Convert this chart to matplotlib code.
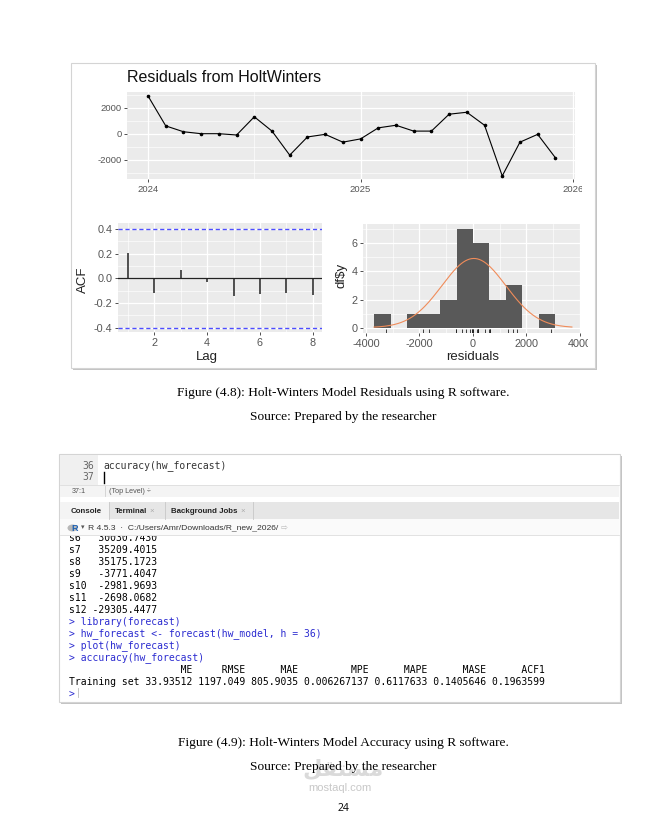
import numpy as np
import matplotlib.pyplot as plt
from matplotlib.patches import Rectangle, Ellipse
from matplotlib.transforms import Bbox

W, H = 668, 813

# residuals from the Holt-Winters fit, monthly Jan 2024 - Dec 2025
resid = [2900, 600, 150, 0, 0, -100, 1300, 200, -1650, -250, -50, -650,
         -400, 450, 650, 200, 200, 1500, 1650, 650, -3250, -650, -50, -1850]
t = 2024 + np.arange(len(resid)) / 12

# ACF of residuals
acf_lags = [1, 2, 3, 4, 5, 6, 7, 8]
acf_vals = [0.203, -0.12, 0.068, -0.032, -0.14, -0.127, -0.116, -0.135]
acf_ci = 0.4

# histogram of residuals
hist_edges = [-3690, -3075, -2460, -1845, -1230, -615, 0, 615, 1230, 1845, 2460, 3075]
hist_counts = [1, 0, 1, 1, 2, 7, 6, 2, 3, 0, 1]
norm_mean, norm_sd = 34, 1197

# console text
seasonal = [("s6", "30030.7430"), ("s7", "35209.4015"), ("s8", "35175.1723"),
            ("s9", "-3771.4047"), ("s10", "-2981.9693"), ("s11", "-2698.0682"),
            ("s12", "-29305.4477")]
commands = ["library(forecast)", "hw_forecast <- forecast(hw_model, h = 36)",
            "plot(hw_forecast)", "accuracy(hw_forecast)"]
acc_names = ["ME", "RMSE", "MAE", "MPE", "MAPE", "MASE", "ACF1"]
acc_vals = ["33.93512", "1197.049", "805.9035", "0.006267137", "0.6117633",
            "0.1405646", "0.1963599"]

plt.rcParams['font.family'] = ['Liberation Sans', 'DejaVu Sans']
plt.rcParams['axes.unicode_minus'] = False

fig = plt.figure(figsize=(W / 100, H / 100), dpi=100)
fig.patch.set_facecolor('white')

bg = fig.add_axes([0, 0, 1, 1])
bg.set_xlim(0, W)
bg.set_ylim(H, 0)
bg.axis('off')


def px_axes(x0, y0, x1, y1):
    return fig.add_axes([x0 / W, 1 - y1 / H, (x1 - x0) / W, (y1 - y0) / H])


def gg(ax, size):
    ax.set_facecolor('#ebebeb')
    for s in ax.spines.values():
        s.set_visible(False)
    ax.grid(which='major', color='white', lw=0.9)
    ax.grid(which='minor', color='white', lw=0.45)
    ax.set_axisbelow(True)
    ax.tick_params(which='major', length=2.5, width=0.6, color='#333333',
                   labelcolor='#555555', labelsize=size, pad=1.5)
    ax.tick_params(which='minor', length=0)


def clip_xlabels(ax, xmax):
    for lbl in ax.get_xticklabels():
        lbl.set_clip_on(True)
        lbl.set_clip_box(Bbox.from_extents(0, 0, xmax, H))


def frame(x0, y0, x1, y1):
    bg.add_patch(Rectangle((x0 + 2, y0 + 2), x1 - x0, y1 - y0, fc='#c4c4c4', ec='none'))
    bg.add_patch(Rectangle((x0, y0), x1 - x0, y1 - y0, fc='white', ec='#d4d4d4', lw=0.8))


# ---------- figure 4.8 ----------
frame(71, 63, 595, 368)
bg.text(127, 78, "Residuals from HoltWinters", fontsize=11.5, va='center', color='#111111')

ax = px_axes(127, 92, 575, 179)
gg(ax, 6.8)
ax.plot(t, resid, color='black', lw=0.8, marker='o', ms=1.6)
ax.set_xlim(2023.901, 2026.009)
ax.set_ylim(-3485, 3208)
ax.set_xticks([2024, 2025, 2026])
ax.set_xticks([2024.5, 2025.5], minor=True)
ax.set_yticks([-2000, 0, 2000])
ax.set_yticks([-3000, -1000, 1000, 3000], minor=True)
clip_xlabels(ax, 582)

ax = px_axes(118, 223, 322, 332)
gg(ax, 7.8)
ax.axhline(0, color='#222222', lw=0.9)
ax.vlines(acf_lags, 0, acf_vals, color='#222222', lw=1.1)
for c in (acf_ci, -acf_ci):
    ax.axhline(c, color='#4d4dff', lw=1, ls=(0, (3, 2)))
ax.set_xlim(0.625, 8.35)
ax.set_ylim(-0.435, 0.449)
ax.set_xticks([2, 4, 6, 8])
ax.set_xticks([1, 3, 5, 7], minor=True)
ax.set_yticks([-0.4, -0.2, 0, 0.2, 0.4])
ax.set_yticklabels(["-0.4", "-0.2", "0.0", "0.2", "0.4"])
ax.set_yticks([-0.3, -0.1, 0.1, 0.3], minor=True)
bg.text(83, 280, "ACF", rotation=90, fontsize=9.5, ha='center', va='center', color='#222222')
bg.text(207, 357, "Lag", fontsize=9.5, ha='center', va='center', color='#222222')

ax = px_axes(363, 224, 581, 333)
gg(ax, 7.8)
ax.bar(hist_edges[:-1], hist_counts, width=np.diff(hist_edges), align='edge', color='#595959')
ax.vlines(resid, 0, 0.035, transform=ax.get_xaxis_transform(), color='#222222', lw=0.6)
xs = np.linspace(-3700, 3700, 200)
binw = hist_edges[1] - hist_edges[0]
ys = len(resid) * binw * np.exp(-0.5 * ((xs - norm_mean) / norm_sd) ** 2) / (norm_sd * np.sqrt(2 * np.pi))
ax.plot(xs, ys, color='#f08c5a', lw=0.8)
ax.set_xlim(-4112, 4040)
ax.set_ylim(-0.38, 7.37)
ax.set_xticks([-4000, -2000, 0, 2000, 4000])
ax.set_xticks([-3000, -1000, 1000, 3000], minor=True)
ax.set_yticks([0, 2, 4, 6])
ax.set_yticks([1, 3, 5, 7], minor=True)
clip_xlabels(ax, 588)
bg.text(342, 275, r"df\$y", rotation=90, fontsize=9.5, ha='center', va='center', color='#222222')
bg.text(473, 357, "residuals", fontsize=9.5, ha='center', va='center', color='#222222')

serif = 'Liberation Serif'
cap = 9.65
bg.text(343, 393, "Figure (4.8): Holt-Winters Model Residuals using R software.",
        family=serif, fontsize=cap, ha='center', va='center')
bg.text(343, 417, "Source: Prepared by the researcher",
        family=serif, fontsize=cap, ha='center', va='center')

# ---------- figure 4.9 (RStudio console) ----------
frame(59, 454, 620, 702)
mono = 'DejaVu Sans Mono'
ms = 7.05

# editor strip
bg.add_patch(Rectangle((60, 455), 38, 30, fc='#f0f0f0', ec='none'))
bg.text(94, 466, "36", family=mono, fontsize=ms, ha='right', va='center', color='#666666')
bg.text(94, 477, "37", family=mono, fontsize=ms, ha='right', va='center', color='#666666')
bg.text(103, 466, "accuracy(hw_forecast)", family=mono, fontsize=ms, va='center', color='#333333')
bg.plot([103.5, 103.5], [472, 483], color='black', lw=1)

# status bar
bg.add_patch(Rectangle((60, 485), 559, 12, fc='#f4f4f4', ec='none'))
bg.plot([60, 619], [485, 485], color='#dddddd', lw=0.6)
bg.plot([105, 105], [486, 496], color='#d0d0d0', lw=0.6)
bg.text(72, 491, "37:1", fontsize=5.2, va='center', color='#555555')
bg.text(109, 491, "(Top Level) \u00f7", fontsize=5.2, va='center', color='#555555')

# tab bar
bg.add_patch(Rectangle((60, 502), 559, 17, fc='#e6e6e6', ec='none'))
bg.add_patch(Rectangle((60, 502), 49, 17, fc='#f4f4f4', ec='none'))
for xs_ in (109, 165, 253):
    bg.plot([xs_, xs_], [502, 519], color='#c8c8c8', lw=0.6)
bg.text(71, 511, "Console", fontsize=5.7, weight='bold', va='center', color='#222222')
bg.text(115, 511, "Terminal", fontsize=5.7, weight='bold', va='center', color='#222222')
bg.text(149, 511, "\u00d7", fontsize=5.7, va='center', color='#aaaaaa')
bg.text(171, 511, "Background Jobs", fontsize=5.7, weight='bold', va='center', color='#222222')
bg.text(240, 511, "\u00d7", fontsize=5.7, va='center', color='#aaaaaa')

# path bar
bg.add_patch(Rectangle((60, 519), 559, 16, fc='#fafafa', ec='none'))
bg.add_patch(Ellipse((72.5, 528), 10, 7, fc='#b8b8b8', ec='none'))
bg.text(74.5, 528.5, "R", fontsize=6.5, weight='bold', ha='center', va='center', color='#1f63b5')
bg.text(81, 528, "\u25be", fontsize=5, va='center', color='#555555')
bg.text(88, 528, "R 4.5.3  \u00b7  C:/Users/Amr/Downloads/R_new_2026/", fontsize=6.1, va='center',
        color='#333333')
bg.text(281, 528, "\u21e8", family=['DejaVu Sans'], fontsize=6, va='center', color='#bbbbbb')
bg.plot([60, 619], [535, 535], color='#dddddd', lw=0.6)

# console output
out = px_axes(60, 535.5, 619, 701)
out.set_xlim(60, 619)
out.set_ylim(701, 535.5)
out.axis('off')

lines = []
for name, val in seasonal:
    lines.append((name.ljust(3) + " " + val.rjust(11), 'black'))
for c in commands:
    lines.append(("> " + c, '#2b2bd0'))
header = " " * 12
row = "Training set"
for n, v in zip(acc_names, acc_vals):
    header += " " + n.rjust(len(v))
    row += " " + v
lines.append((header, 'black'))
lines.append((row, 'black'))
lines.append(("> ", '#2b2bd0'))

y = 537.5
for txt, col in lines:
    out.text(69, y, txt, family=mono, fontsize=ms, va='center', color=col, clip_on=True)
    y += 12.0
out.plot([78, 78], [688, 697], color='#bbbbbb', lw=0.6)

bg.text(343, 743, "Figure (4.9): Holt-Winters Model Accuracy using R software.",
        family=serif, fontsize=cap, ha='center', va='center')

# watermark
bg.text(343, 769, "\ufede\ufed8\ufe98\ufeb4\ufee3", family=['DejaVu Sans'], fontsize=16,
        weight='bold', ha='center', va='center', color='#dadada')
bg.text(340, 788, "mostaql.com", fontsize=8, ha='center', va='center', color='#c8c8c8')

bg.text(343, 767, "Source: Prepared by the researcher",
        family=serif, fontsize=cap, ha='center', va='center')
bg.text(343, 808, "24", family='Noto Sans', fontsize=7.5, ha='center', va='center', color='#111111')

fig.savefig('out.png', dpi=100, facecolor='white')
